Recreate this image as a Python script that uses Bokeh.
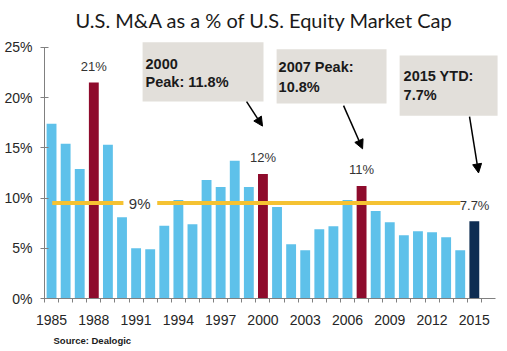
from bokeh.plotting import figure
from bokeh.models import (ColumnDataSource, FixedTicker, PrintfTickFormatter, Arrow,
                          NormalHead, Title, Range1d)
from bokeh.core.properties import value
from bokeh.embed import file_html
from bokeh.resources import INLINE

# ---------------- data ----------------
years = list(range(1985, 2016))
ma_pct = [17.4, 15.4, 12.9, 21.5, 15.3, 8.1, 5.0, 4.9, 7.25, 9.8,
          7.4, 11.8, 11.1, 13.7, 11.1, 12.4, 9.1, 5.4, 4.8, 6.9,
          7.2, 9.8, 11.2, 8.7, 7.6, 6.3, 6.7, 6.6, 6.1, 4.8, 7.7]
peak_years = [1988, 2000, 2007]
peak_labels = ["21%", "12%", "11%"]
ytd_year = 2015
avg_value = 9.5
avg_label = "9%"
ytd_label = "7.7%"
x_tick_years = list(range(1985, 2016, 3))
y_ticks = [0, 5, 10, 15, 20, 25]
title_text = "U.S. M&A as a % of U.S.  Equity Market Cap"
source_text = "Source: Dealogic"
box_lines = [["2000", "Peak: 11.8%"], ["2007 Peak:", "10.8%"], ["2015 YTD:", "7.7%"]]

# ---------------- style ----------------
SANS = "Liberation Sans"
BLUE = "#5EC1EA"
RED = "#8E0B2C"
NAVY = "#0E2D52"
GOLD = "#F5C232"
AXIS = "#808080"
BOX = "#E2DFDA"

colors = []
for y in years:
    if y in peak_years:
        colors.append(RED)
    elif y == ytd_year:
        colors.append(NAVY)
    else:
        colors.append(BLUE)

src = ColumnDataSource(dict(year=years, pct=ma_pct, color=colors))

p = figure(width=507, height=351, output_backend="svg", toolbar_location=None,
           x_range=Range1d(1984.5, 2017.07), y_range=Range1d(0, 26.08),
           min_border_left=44, min_border_right=4, min_border_top=32,
           min_border_bottom=53)
p.outline_line_color = None
p.xgrid.visible = False
p.ygrid.visible = False

p.title.text = title_text
p.title.align = "left"
p.title.offset = 31
p.title.text_font = "Lato"
p.title.text_font_size = "20px"
p.title.text_font_style = "normal"
p.title.text_color = "#1a1a1a"

# bars
p.vbar(x="year", top="pct", width=0.7, fill_color="color", line_color=None, source=src)

# average line
p.segment(x0=[1985.05, 1992.5], x1=[1990.1, 2014.0], y0=[avg_value, avg_value],
          y1=[avg_value, avg_value], line_color=GOLD, line_width=4)
p.text(x=[1991.25], y=[avg_value], text=[avg_label], text_align="center",
       text_baseline="middle", text_font=value(SANS), text_font_size="15px",
       text_color="#333333")
p.text(x=[2015.02], y=[avg_value], text=[ytd_label], text_align="center",
       text_baseline="middle", y_offset=2, text_font=value(SANS),
       text_font_size="13px", text_color="#333333")

# peak labels
peak_vals = [ma_pct[years.index(y)] for y in peak_years]
p.text(x=peak_years, y=peak_vals, text=peak_labels, text_align="center",
       text_baseline="middle", y_offset=-16, text_font=value(SANS),
       text_font_size="13px", text_color="#333333")

# annotation boxes
p.quad(left=[1991.46, 2000.97, 2009.7], right=[2000.04, 2008.77, 2016.65],
       top=[25.5, 24.8, 24.2], bottom=[19.6, 19.4, 18.2],
       fill_color=BOX, line_color=None)
bx = [1991.67, 2001.11, 2009.98]
by1 = [23.33, 23.04, 22.16]
by2 = [21.57, 21.08, 20.29]
p.text(x=bx, y=by1, text=[b[0] for b in box_lines], text_baseline="middle",
       text_font=value(SANS), text_font_size="14.5px", text_font_style="bold",
       text_color="#1a1a1a")
p.text(x=bx, y=by2, text=[b[1] for b in box_lines], text_baseline="middle",
       text_font=value(SANS), text_font_size="14.5px", text_font_style="bold",
       text_color="#1a1a1a")

# arrows
for xs, ys, xe, ye in [(1998.84, 19.6, 1999.97, 17.16),
                       (2005.72, 19.2, 2007.07, 14.9),
                       (2014.66, 18.1, 2015.3, 12.5)]:
    p.add_layout(Arrow(end=NormalHead(size=9, fill_color="black", line_color="black"),
                       x_start=xs, y_start=ys, x_end=xe, y_end=ye,
                       line_width=1.5, line_color="black"))

# axes
p.yaxis.ticker = FixedTicker(ticks=y_ticks)
p.yaxis.formatter = PrintfTickFormatter(format="%d%%")
p.yaxis.bounds = (0, 25)
p.yaxis.axis_line_color = AXIS
p.yaxis.major_tick_line_color = AXIS
p.yaxis.major_tick_in = 4
p.yaxis.major_tick_out = 4
p.yaxis.minor_tick_line_color = None
p.yaxis.major_label_text_font = SANS
p.yaxis.major_label_text_font_size = "14px"
p.yaxis.major_label_text_color = "#262626"
p.yaxis.major_label_standoff = 8

boundaries = [y - 0.5 for y in years] + [years[-1] + 0.5]
p.xaxis.ticker = FixedTicker(ticks=x_tick_years, minor_ticks=boundaries)
p.xaxis.bounds = (1984.5, 2016.5)
p.xaxis.axis_line_color = AXIS
p.xaxis.major_tick_line_color = None
p.xaxis.major_tick_in = 0
p.xaxis.major_tick_out = 0
p.xaxis.minor_tick_line_color = AXIS
p.xaxis.minor_tick_in = 0
p.xaxis.minor_tick_out = 4
p.xaxis.major_label_text_font = SANS
p.xaxis.major_label_text_font_size = "14px"
p.xaxis.major_label_text_color = "#262626"
p.xaxis.major_label_standoff = 12

p.add_layout(Title(text=source_text, align="left", offset=9, text_font=SANS,
                   text_font_size="9.5px", text_font_style="bold",
                   text_color="#1a1a1a"), "below")

open("out.html", "w").write(file_html(p, INLINE))
